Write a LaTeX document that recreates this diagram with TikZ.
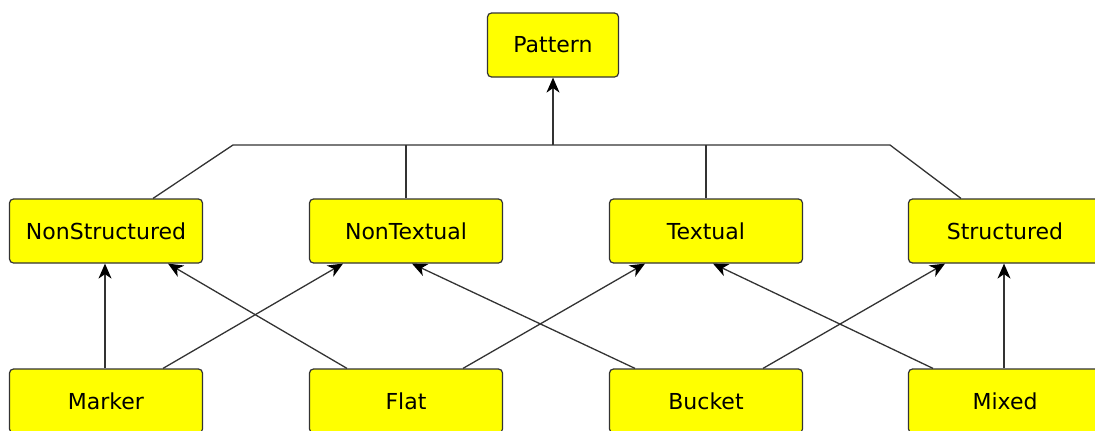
\documentclass[tikz,border=0pt]{standalone}
\usepackage{fontspec}
\newfontfamily\boxfont{DejaVu Sans}
\usetikzlibrary{arrows.meta}
\definecolor{boxfill}{HTML}{FFFF00}
\definecolor{edge}{HTML}{333333}
\tikzset{
  cls/.style={draw=edge, fill=boxfill, rounded corners=4pt, line width=1.2pt,
    minimum width=193pt, minimum height=64pt, inner sep=0pt,
    font=\boxfont\fontsize{22}{26}\selectfont},
  link/.style={draw=edge, line width=1.3pt},
  arr/.style={link, -{Stealth[length=15pt, width=13pt, inset=4.5pt, color=black]}}
}
\begin{document}
\begin{tikzpicture}[x=1pt, y=-1pt]
  \clip (0,0) rectangle (1095,431);
  \useasboundingbox (0,0) rectangle (1095,431);

  % top class
  \node[cls, minimum width=131pt] (pattern) at (553,45) {Pattern};

  % middle row
  \node[cls] (ns) at (106,231) {NonStructured};
  \node[cls] (nt) at (406,231) {NonTextual};
  \node[cls] (tx) at (706,231) {Textual};
  \node[cls] (st) at (1005,231) {Structured};

  % bottom row
  \node[cls] (marker) at (106,401) {Marker};
  \node[cls] (flat)   at (406,401) {Flat};
  \node[cls] (bucket) at (706,401) {Bucket};
  \node[cls] (mixed)  at (1005,401) {Mixed};

  % generalisation bus
  \coordinate (busL) at (233,145);
  \coordinate (busR) at (890,145);
  \draw[link] ([xshift=47pt]ns.north) -- (busL) -- (busR) -- ([xshift=-44pt]st.north);
  \draw[link] (nt.north) -- (nt.north |- busL);
  \draw[link] (tx.north) -- (tx.north |- busL);
  \draw[arr] (pattern.south |- busL) -- (pattern.south);

  % bottom to middle
  \draw[arr] ([xshift=-1pt]marker.north) -- ([xshift=-1pt]ns.south);
  \draw[arr] ([xshift=57pt]marker.north) -- ([xshift=-63pt]nt.south);
  \draw[arr] ([xshift=-59pt]flat.north) -- ([xshift=62pt]ns.south);
  \draw[arr] ([xshift=57pt]flat.north) -- ([xshift=-61pt]tx.south);
  \draw[arr] ([xshift=-71pt]bucket.north) -- ([xshift=6pt]nt.south);
  \draw[arr] ([xshift=57pt]bucket.north) -- ([xshift=-60pt]st.south);
  \draw[arr] ([xshift=-72pt]mixed.north) -- ([xshift=7pt]tx.south);
  \draw[arr] ([xshift=-1pt]mixed.north) -- ([xshift=-1pt]st.south);
\end{tikzpicture}
\end{document}
